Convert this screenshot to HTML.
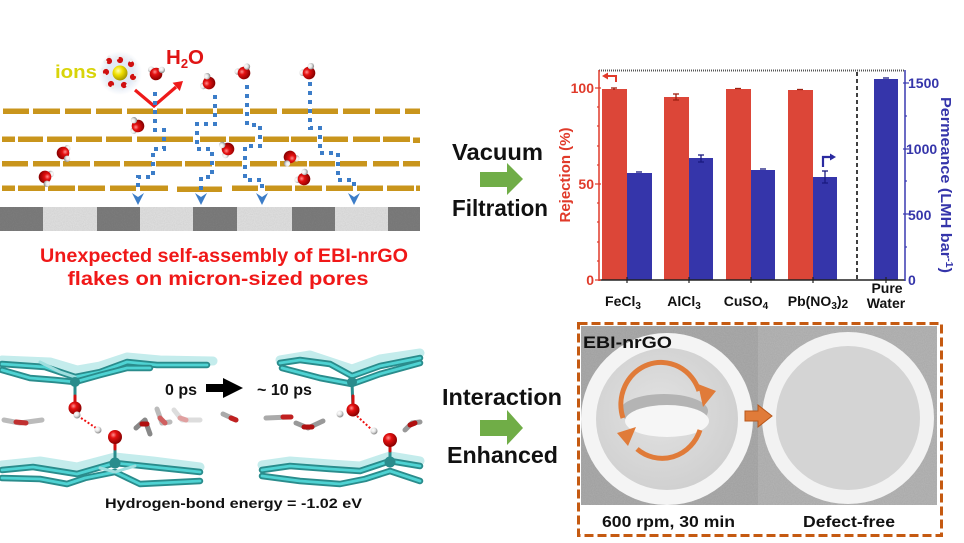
<!DOCTYPE html>
<html><head><meta charset="utf-8"><style>
html,body{margin:0;padding:0;background:#fff;}
svg{display:block;}
text{font-family:"Liberation Sans",Arial,sans-serif;font-weight:bold;}
</style></head><body>
<svg width="964" height="543" viewBox="0 0 964 543" xmlns="http://www.w3.org/2000/svg">
<defs>
<radialGradient id="rg" cx="38%" cy="35%" r="65%"><stop offset="0" stop-color="#ff9090"/><stop offset="0.35" stop-color="#e41010"/><stop offset="1" stop-color="#8a0000"/></radialGradient>
<radialGradient id="wg" cx="38%" cy="35%" r="65%"><stop offset="0" stop-color="#ffffff"/><stop offset="0.5" stop-color="#e6e6e6"/><stop offset="1" stop-color="#8a8a8a"/></radialGradient>
<radialGradient id="yg" cx="38%" cy="35%" r="65%"><stop offset="0" stop-color="#ffffb0"/><stop offset="0.45" stop-color="#f0e000"/><stop offset="1" stop-color="#a89800"/></radialGradient>
<radialGradient id="halo"><stop offset="0.6" stop-color="#e2eaf5"/><stop offset="1" stop-color="#e2eaf5" stop-opacity="0"/></radialGradient>
<radialGradient id="disk" cx="45%" cy="45%" r="60%"><stop offset="0" stop-color="#e2e2e2"/><stop offset="1" stop-color="#cfcfcf"/></radialGradient>
<filter id="noise" x="0" y="0" width="100%" height="100%">
<feTurbulence type="fractalNoise" baseFrequency="0.9" numOctaves="2" seed="3" result="t"/>
<feColorMatrix in="t" type="matrix" values="0 0 0 0 0.5  0 0 0 0 0.5  0 0 0 0 0.5  0 0 0 0.35 0" result="n"/>
<feComposite in="n" in2="SourceGraphic" operator="in" result="nn"/>
<feBlend in="SourceGraphic" in2="nn" mode="multiply"/>
</filter>
<g id="w"><circle r="3.2" cx="-5.5" cy="-3.5" fill="url(#wg)"/><circle r="6.3" fill="url(#rg)"/><circle r="3.2" cx="5" cy="-5" fill="url(#wg)"/></g>
<g id="sw"><circle r="1.8" cx="-3" cy="2.3" fill="#eee"/><circle r="3.1" fill="#d01010"/><circle r="1.8" cx="3" cy="2.3" fill="#eee"/></g>
</defs>

<!-- ================= TOP LEFT: membrane schematic ================= -->
<text x="55" y="78" font-size="18.5" fill="#d8d40a" textLength="42" lengthAdjust="spacingAndGlyphs">ions</text>
<circle cx="120" cy="73" r="22" fill="url(#halo)"/>
<use href="#sw" transform="translate(120,60) rotate(180)"/>
<use href="#sw" transform="translate(131,64) rotate(230)"/>
<use href="#sw" transform="translate(133,77) rotate(280)"/>
<use href="#sw" transform="translate(124,85) rotate(330)"/>
<use href="#sw" transform="translate(111,84) rotate(20)"/>
<use href="#sw" transform="translate(106,72) rotate(80)"/>
<use href="#sw" transform="translate(109,61) rotate(130)"/>
<circle cx="120" cy="73" r="7.5" fill="url(#yg)"/>
<text x="166" y="64" font-size="20.5" fill="#e01414">H<tspan font-size="13" dy="4">2</tspan><tspan dy="-4">O</tspan></text>
<polyline points="135,90 154,106 176,87" fill="none" stroke="#ee1a1a" stroke-width="3.2"/>
<polygon points="183,81 179.8,91 172.6,82.8" fill="#ee1a1a"/>

<!-- flakes -->
<g fill="#c9951c">
<rect x="3" y="108.5" width="26" height="5.5"/><rect x="33" y="108.5" width="27" height="5.5"/><rect x="65" y="108.5" width="26" height="5.5"/><rect x="96" y="108.5" width="26" height="5.5"/><rect x="127" y="108.5" width="26" height="5.5"/><rect x="157" y="108.5" width="26" height="5.5"/><rect x="186" y="108.5" width="27" height="5.5"/><rect x="217" y="108.5" width="26" height="5.5"/><rect x="250" y="108.5" width="27" height="5.5"/><rect x="282" y="108.5" width="26" height="5.5"/><rect x="312" y="108.5" width="26" height="5.5"/><rect x="343" y="108.5" width="27" height="5.5"/><rect x="375" y="108.5" width="25" height="5.5"/><rect x="405" y="108.5" width="15" height="5.5"/>
<rect x="2" y="136.5" width="13" height="5.5"/><rect x="18" y="136.5" width="25" height="5.5"/><rect x="47" y="136.5" width="25" height="5.5"/><rect x="76" y="136.5" width="26" height="5.5"/><rect x="106" y="136.5" width="26" height="5.5"/><rect x="137" y="136.5" width="56" height="5.5"/><rect x="200" y="136.5" width="26" height="5.5"/><rect x="229" y="136.5" width="26" height="5.5"/><rect x="263" y="136.5" width="26" height="5.5"/><rect x="291" y="136.5" width="26" height="5.5"/><rect x="323" y="136.5" width="25" height="5.5"/><rect x="353" y="136.5" width="27" height="5.5"/><rect x="383" y="136.5" width="27" height="5.5"/><rect x="413" y="137.5" width="7" height="5.5"/>
<rect x="2" y="161" width="26" height="5.5"/><rect x="33" y="161" width="27" height="5.5"/><rect x="63" y="161" width="27" height="5.5"/><rect x="94" y="161" width="26" height="5.5"/><rect x="124" y="161" width="28" height="5.5"/><rect x="156" y="161" width="26" height="5.5"/><rect x="185" y="161" width="27" height="5.5"/><rect x="215" y="161" width="27" height="5.5"/><rect x="250" y="161" width="27" height="5.5"/><rect x="280" y="161" width="27" height="5.5"/><rect x="309" y="161" width="26" height="5.5"/><rect x="340" y="161" width="27" height="5.5"/><rect x="373" y="161" width="26" height="5.5"/><rect x="403" y="161" width="17" height="5.5"/>
<rect x="2" y="185.5" width="13" height="5.5"/><rect x="18" y="185.5" width="27" height="5.5"/><rect x="48" y="185.5" width="27" height="5.5"/><rect x="78" y="185.5" width="27" height="5.5"/><rect x="110" y="185.5" width="26" height="5.5"/><rect x="140" y="185.5" width="28" height="5.5"/><rect x="177" y="186.5" width="45" height="5.5"/><rect x="232" y="185.5" width="26" height="5.5"/><rect x="265" y="185.5" width="27" height="5.5"/><rect x="295" y="185.5" width="27" height="5.5"/><rect x="326" y="185.5" width="27" height="5.5"/><rect x="357" y="185.5" width="26" height="5.5"/><rect x="387" y="185.5" width="27" height="5.5"/><rect x="416" y="185.5" width="4" height="5.5"/>
</g>

<!-- substrate -->
<g filter="url(#noise)">
<rect x="0" y="207" width="43" height="24" fill="#7e7e7e"/>
<rect x="43" y="207" width="54" height="24" fill="#e2e2e2"/>
<rect x="97" y="207" width="43" height="24" fill="#7e7e7e"/>
<rect x="140" y="207" width="53" height="24" fill="#e2e2e2"/>
<rect x="193" y="207" width="44" height="24" fill="#7e7e7e"/>
<rect x="237" y="207" width="55" height="24" fill="#e2e2e2"/>
<rect x="292" y="207" width="43" height="24" fill="#7e7e7e"/>
<rect x="335" y="207" width="53" height="24" fill="#e2e2e2"/>
<rect x="388" y="207" width="32" height="24" fill="#7e7e7e"/>
</g>

<!-- blue dotted paths -->
<g fill="none" stroke="#3c7dc8" stroke-width="4" stroke-dasharray="4 5">
<polyline points="155,92 155,130 164,130 164,149 153,149 153,177 138,177 138,191"/>
<polyline points="215,95 215,124 197,124 197,149 212,149 212,177 201,177 201,191"/>
<polyline points="247,85 247,125 260,125 260,146 245,146 245,180 262,180 262,191"/>
<polyline points="310,82 310,128 320,128 320,153 338,153 338,180 354,180 354,191"/>
</g>
<g fill="#3c7dc8">
<polygon points="132,193 138,197 144,193 138,205"/>
<polygon points="195,193 201,197 207,193 201,205"/>
<polygon points="256,193 262,197 268,193 262,205"/>
<polygon points="348,193 354,197 360,193 354,205"/>
</g>

<!-- water molecules -->
<use href="#w" transform="translate(156,74) rotate(10)"/>
<use href="#w" transform="translate(209,83) rotate(-60)"/>
<use href="#w" transform="translate(244,73) rotate(-20)"/>
<use href="#w" transform="translate(309,73) rotate(-30)"/>
<use href="#w" transform="translate(138,126) rotate(-80)"/>
<use href="#w" transform="translate(63,153) rotate(100)"/>
<use href="#w" transform="translate(45,177) rotate(120)"/>
<use href="#w" transform="translate(228,149) rotate(-100)"/>
<use href="#w" transform="translate(290,157) rotate(160)"/>
<use href="#w" transform="translate(304,179) rotate(-40)"/>

<!-- caption -->
<text x="224" y="262" font-size="19.5" fill="#f01818" text-anchor="middle" textLength="368" lengthAdjust="spacingAndGlyphs">Unexpected self-assembly of EBI-nrGO</text>
<text x="218" y="285" font-size="19.5" fill="#f01818" text-anchor="middle" textLength="301" lengthAdjust="spacingAndGlyphs">flakes on micron-sized pores</text>

<!-- ================= MIDDLE ARROWS ================= -->
<text x="452" y="160" font-size="23" fill="#111" textLength="91" lengthAdjust="spacingAndGlyphs">Vacuum</text>
<polygon points="480,172 507,172 507,163 523,179 507,195 507,187 480,187" fill="#70ad47"/>
<text x="452" y="216" font-size="23" fill="#111" textLength="96" lengthAdjust="spacingAndGlyphs">Filtration</text>

<text x="442" y="405" font-size="23" fill="#111" textLength="120" lengthAdjust="spacingAndGlyphs">Interaction</text>
<polygon points="480,420 507,420 507,410 523,428 507,445 507,436 480,436" fill="#70ad47"/>
<text x="447" y="463" font-size="23" fill="#111" textLength="111" lengthAdjust="spacingAndGlyphs">Enhanced</text>

<!-- ================= CHART ================= -->
<g>
<g fill="#dc4638">
<rect x="602" y="89" width="25" height="191"/>
<rect x="664" y="97" width="25" height="183"/>
<rect x="726" y="89" width="25" height="191"/>
<rect x="788" y="90" width="25" height="190"/>
</g>
<g fill="#3535aa">
<rect x="627" y="173" width="25" height="107"/>
<rect x="689" y="158" width="24" height="122"/>
<rect x="751" y="170" width="24" height="110"/>
<rect x="813" y="177" width="24" height="103"/>
<rect x="874" y="79" width="24" height="201"/>
</g>
<g stroke="#a02010" stroke-width="1.3">
<line x1="614" y1="88" x2="614" y2="90"/><line x1="611" y1="88" x2="617" y2="88"/>
<line x1="676" y1="94" x2="676" y2="100"/><line x1="673" y1="94" x2="679" y2="94"/><line x1="673" y1="100" x2="679" y2="100"/>
<line x1="735" y1="88.5" x2="741" y2="88.5"/>
<line x1="797" y1="89.5" x2="803" y2="89.5"/>
</g>
<g stroke="#1a1a80" stroke-width="1.3">
<line x1="636" y1="172" x2="642" y2="172"/>
<line x1="701" y1="155" x2="701" y2="162"/><line x1="698" y1="155" x2="704" y2="155"/><line x1="698" y1="162" x2="704" y2="162"/>
<line x1="760" y1="169" x2="766" y2="169"/>
<line x1="825" y1="171" x2="825" y2="183"/><line x1="822" y1="171" x2="828" y2="171"/><line x1="822" y1="183" x2="828" y2="183"/>
<line x1="883" y1="78" x2="889" y2="78"/>
</g>
<line x1="599" y1="70.5" x2="905" y2="70.5" stroke="#555" stroke-width="2" stroke-dasharray="1 1"/>
<line x1="599" y1="280" x2="905" y2="280" stroke="#222" stroke-width="1.6"/>
<line x1="599" y1="70" x2="599" y2="281" stroke="#e03a2a" stroke-width="1.5"/>
<line x1="905" y1="70" x2="905" y2="281" stroke="#3a3ab0" stroke-width="1.5"/>
<line x1="857" y1="72" x2="857" y2="279" stroke="#111" stroke-width="1.6" stroke-dasharray="4 3"/>
<g stroke="#e03a2a" stroke-width="1.2">
<line x1="595" y1="88" x2="601" y2="88"/><line x1="595" y1="184" x2="601" y2="184"/><line x1="595" y1="280" x2="601" y2="280"/>
<line x1="597" y1="107" x2="599" y2="107"/><line x1="597" y1="126" x2="599" y2="126"/><line x1="597" y1="146" x2="599" y2="146"/><line x1="597" y1="165" x2="599" y2="165"/>
<line x1="597" y1="203" x2="599" y2="203"/><line x1="597" y1="222" x2="599" y2="222"/><line x1="597" y1="242" x2="599" y2="242"/><line x1="597" y1="261" x2="599" y2="261"/>
</g>
<g stroke="#3a3ab0" stroke-width="1.2">
<line x1="903" y1="83" x2="909" y2="83"/><line x1="903" y1="149" x2="909" y2="149"/><line x1="903" y1="214" x2="909" y2="214"/>
<line x1="905" y1="116" x2="907" y2="116"/><line x1="905" y1="181" x2="907" y2="181"/><line x1="905" y1="247" x2="907" y2="247"/>
</g>
<g stroke="#222" stroke-width="1.2">
<line x1="627" y1="277" x2="627" y2="283"/><line x1="689" y1="277" x2="689" y2="283"/><line x1="751" y1="277" x2="751" y2="283"/><line x1="813" y1="277" x2="813" y2="283"/><line x1="886" y1="277" x2="886" y2="283"/>
</g>
<g font-size="14" fill="#e03a2a" text-anchor="end">
<text x="594" y="93">100</text>
<text x="594" y="189">50</text>
<text x="594" y="285">0</text>
</g>
<g font-size="14" fill="#3535aa">
<text x="908" y="88">1500</text>
<text x="906" y="154">1000</text>
<text x="908" y="220">500</text>
<text x="908" y="285">0</text>
</g>
<text transform="translate(570,175) rotate(-90)" font-size="15" fill="#e03a2a" text-anchor="middle">Rejection (%)</text>
<text transform="translate(941,185) rotate(90)" font-size="15" fill="#3535aa" text-anchor="middle" textLength="176" lengthAdjust="spacingAndGlyphs">Permeance (LMH bar<tspan font-size="10" dy="-5">-1</tspan><tspan dy="5">)</tspan></text>
<polyline points="608,76 616,76 616,82" fill="none" stroke="#e03a2a" stroke-width="2"/>
<polygon points="602,76 608,72.5 608,79.5" fill="#e03a2a"/>
<polyline points="823,167 823,157 830,157" fill="none" stroke="#2a2aa0" stroke-width="2.2"/>
<polygon points="836,157 830,153.5 830,160.5" fill="#2a2aa0"/>
<g font-size="14" fill="#111" text-anchor="middle">
<text x="623" y="306">FeCl<tspan font-size="10" dy="3">3</tspan></text>
<text x="684" y="306">AlCl<tspan font-size="10" dy="3">3</tspan></text>
<text x="746" y="306">CuSO<tspan font-size="10" dy="3">4</tspan></text>
<text x="818" y="306">Pb(NO<tspan font-size="10" dy="3">3</tspan><tspan dy="-3">)</tspan><tspan font-size="12" dy="2">2</tspan></text>
<text x="887" y="293">Pure</text>
<text x="886" y="308">Water</text>
</g>
</g>

<!-- ================= BOTTOM LEFT: MD snapshots ================= -->
<g fill="none" stroke-linejoin="round" stroke-linecap="round">
<!-- left top sheet -->
<polyline points="2,360 50,362 77,370 100,366 127,357 160,360 213,361" stroke="#c4ecec" stroke-width="9"/>
<polyline points="2,364 45,367 75,377 100,372 127,362 157,365 207,365" stroke="#2a8c8c" stroke-width="6.5"/>
<polyline points="2,364 45,367 75,377 100,372 127,362 157,365 207,365" stroke="#4fd3d3" stroke-width="2.8"/>
<polyline points="2,370 30,378 55,380 75,382 100,375 127,368 150,368" stroke="#2a8c8c" stroke-width="6.5"/>
<polyline points="2,370 30,378 55,380 75,382 100,375 127,368 150,368" stroke="#4fd3d3" stroke-width="2.8"/>
<polyline points="40,362 60,372 75,377" stroke="#9edede" stroke-width="3"/>
<!-- left bottom sheet -->
<polyline points="2,465 40,461 77,467 115,457 153,461 200,467" stroke="#c4ecec" stroke-width="9"/>
<polyline points="2,470 33,467 77,474 115,463 153,467 200,472" stroke="#2a8c8c" stroke-width="6.5"/>
<polyline points="2,470 33,467 77,474 115,463 153,467 200,472" stroke="#4fd3d3" stroke-width="2.8"/>
<polyline points="2,478 40,479 67,484 85,478 115,472 140,484 200,481" stroke="#2a8c8c" stroke-width="6.5"/>
<polyline points="2,478 40,479 67,484 85,478 115,472 140,484 200,481" stroke="#4fd3d3" stroke-width="2.8"/>
<polyline points="100,468 115,472 135,466" stroke="#9edede" stroke-width="3"/>
<!-- right top sheet -->
<polyline points="280,360 310,355 352,369 380,359 420,353" stroke="#c4ecec" stroke-width="9"/>
<polyline points="280,363 300,360 330,364 352,376 380,366 420,358" stroke="#2a8c8c" stroke-width="6.5"/>
<polyline points="280,363 300,360 330,364 352,376 380,366 420,358" stroke="#4fd3d3" stroke-width="2.8"/>
<polyline points="282,368 320,378 352,384 380,374 420,363" stroke="#2a8c8c" stroke-width="6.5"/>
<polyline points="282,368 320,378 352,384 380,374 420,363" stroke="#4fd3d3" stroke-width="2.8"/>
<!-- right bottom sheet -->
<polyline points="262,465 290,461 330,464 360,466 390,456 420,461" stroke="#c4ecec" stroke-width="9"/>
<polyline points="262,470 290,466 330,469 360,471 390,461 420,466" stroke="#2a8c8c" stroke-width="6.5"/>
<polyline points="262,470 290,466 330,469 360,471 390,461 420,466" stroke="#4fd3d3" stroke-width="2.8"/>
<polyline points="262,476 300,481 340,484 365,479 390,471 420,481" stroke="#2a8c8c" stroke-width="6.5"/>
<polyline points="262,476 300,481 340,484 365,479 390,471 420,481" stroke="#4fd3d3" stroke-width="2.8"/>
<!-- O-C sticks -->
<line x1="75" y1="382" x2="75" y2="408" stroke="#2a8c8c" stroke-width="3"/>
<line x1="75" y1="396" x2="75" y2="408" stroke="#d01010" stroke-width="3"/>
<line x1="115" y1="437" x2="115" y2="463" stroke="#2a8c8c" stroke-width="3"/>
<line x1="115" y1="437" x2="115" y2="449" stroke="#d01010" stroke-width="3"/>
<line x1="352" y1="382" x2="353" y2="410" stroke="#2a8c8c" stroke-width="3"/>
<line x1="353" y1="396" x2="353" y2="410" stroke="#d01010" stroke-width="3"/>
<line x1="390" y1="440" x2="390" y2="463" stroke="#2a8c8c" stroke-width="3"/>
<line x1="390" y1="440" x2="390" y2="451" stroke="#d01010" stroke-width="3"/>
<line x1="81" y1="418" x2="96" y2="428" stroke="#ee1010" stroke-width="2" stroke-dasharray="2 2" stroke-linecap="butt"/>
<line x1="357" y1="416" x2="371" y2="429" stroke="#ee1010" stroke-width="2" stroke-dasharray="2 2" stroke-linecap="butt"/>
<!-- free waters (left panel) -->
<polyline points="4,420 20,423 42,420" stroke="#bbb" stroke-width="5"/>
<polyline points="16,422 26,423" stroke="#c03030" stroke-width="5"/>
<polyline points="136,428 145,420 150,434" stroke="#888" stroke-width="5"/>
<polyline points="142,424 147,424" stroke="#b01010" stroke-width="5"/>
<polyline points="157,409 162,423 170,422" stroke="#bbb" stroke-width="5"/>
<polyline points="160,418 165,423" stroke="#d06060" stroke-width="5"/>
<polyline points="174,410 182,420 200,420" stroke="#ddd" stroke-width="5"/>
<polyline points="180,418 186,420" stroke="#e0a0a0" stroke-width="5"/>
<!-- free waters (right panel) -->
<polyline points="223,414 236,420" stroke="#aaa" stroke-width="5"/>
<polyline points="231,418 236,420" stroke="#c02020" stroke-width="5"/>
<polyline points="266,418 290,417" stroke="#aaa" stroke-width="5"/>
<polyline points="283,417 291,417" stroke="#c02020" stroke-width="5"/>
<polyline points="296,423 308,428 323,421" stroke="#999" stroke-width="5"/>
<polyline points="304,427 312,427" stroke="#b01010" stroke-width="5"/>
<polyline points="405,430 412,423 420,422" stroke="#999" stroke-width="5"/>
<polyline points="410,425 415,423" stroke="#b01010" stroke-width="5"/>
</g>
<circle cx="75" cy="382" r="5" fill="#2a8c8c"/>
<circle cx="115" cy="463" r="5.5" fill="#2a8c8c"/>
<circle cx="352" cy="382" r="5" fill="#2a8c8c"/>
<circle cx="390" cy="462" r="5.5" fill="#2a8c8c"/>
<circle cx="75" cy="408" r="6.5" fill="url(#rg)"/>
<circle cx="77" cy="415" r="3.5" fill="url(#wg)"/>
<circle cx="98" cy="430" r="3.5" fill="url(#wg)"/>
<circle cx="115" cy="437" r="7" fill="url(#rg)"/>
<circle cx="353" cy="410" r="6.5" fill="url(#rg)"/>
<circle cx="340" cy="414" r="3.5" fill="url(#wg)"/>
<circle cx="374" cy="431" r="3.5" fill="url(#wg)"/>
<circle cx="390" cy="440" r="7" fill="url(#rg)"/>

<text x="165" y="395" font-size="16" fill="#111" textLength="32" lengthAdjust="spacingAndGlyphs">0 ps</text>
<polygon points="206,384 223,384 223,378 243,388 223,398 223,392 206,392" fill="#000"/>
<text x="257" y="395" font-size="16" fill="#111" textLength="55" lengthAdjust="spacingAndGlyphs">~ 10 ps</text>
<text x="105" y="508" font-size="14" fill="#111" textLength="257" lengthAdjust="spacingAndGlyphs">Hydrogen-bond energy = -1.02 eV</text>

<!-- ================= BOTTOM RIGHT: photo ================= -->
<g filter="url(#noise)">
<rect x="581" y="326" width="177" height="179" fill="#acacac"/>
<rect x="758" y="326" width="179" height="179" fill="#b6b6b6"/>
</g>
<circle cx="667" cy="419" r="86" fill="#f4f4f4"/>
<circle cx="667" cy="419" r="71" fill="url(#disk)"/>
<ellipse cx="664" cy="411" rx="44" ry="17" fill="#b4b4b4"/>
<ellipse cx="667" cy="421" rx="42" ry="16" fill="#f6f6f6"/>
<g fill="none" stroke="#e07b39" stroke-width="5">
<path d="M623,418 A40,42 0 0 1 699,391"/>
<path d="M700,430 A40,42 0 0 1 637,449"/>
</g>
<polygon points="698,384 716,391 703,407" fill="#e07b39"/>
<polygon points="617,433 636,427 628,446" fill="#e07b39"/>
<circle cx="848" cy="418" r="86" fill="#f2f2f2"/>
<circle cx="848" cy="418" r="72" fill="#d4d4d4"/>
<polygon points="745,411 758,411 758,405 772,416 758,427 758,421 745,421" fill="#e07b39" stroke="#b8571a" stroke-width="1"/>
<text x="583" y="348" font-size="17" fill="#111" textLength="89" lengthAdjust="spacingAndGlyphs">EBI-nrGO</text>
<text x="602" y="527" font-size="15.5" fill="#111" textLength="133" lengthAdjust="spacingAndGlyphs">600 rpm, 30 min</text>
<text x="803" y="527" font-size="15.5" fill="#111" textLength="92" lengthAdjust="spacingAndGlyphs">Defect-free</text>
<rect x="578.5" y="323.5" width="363" height="212" fill="none" stroke="#c55a11" stroke-width="3" stroke-dasharray="9 4"/>
</svg>
</body></html>
